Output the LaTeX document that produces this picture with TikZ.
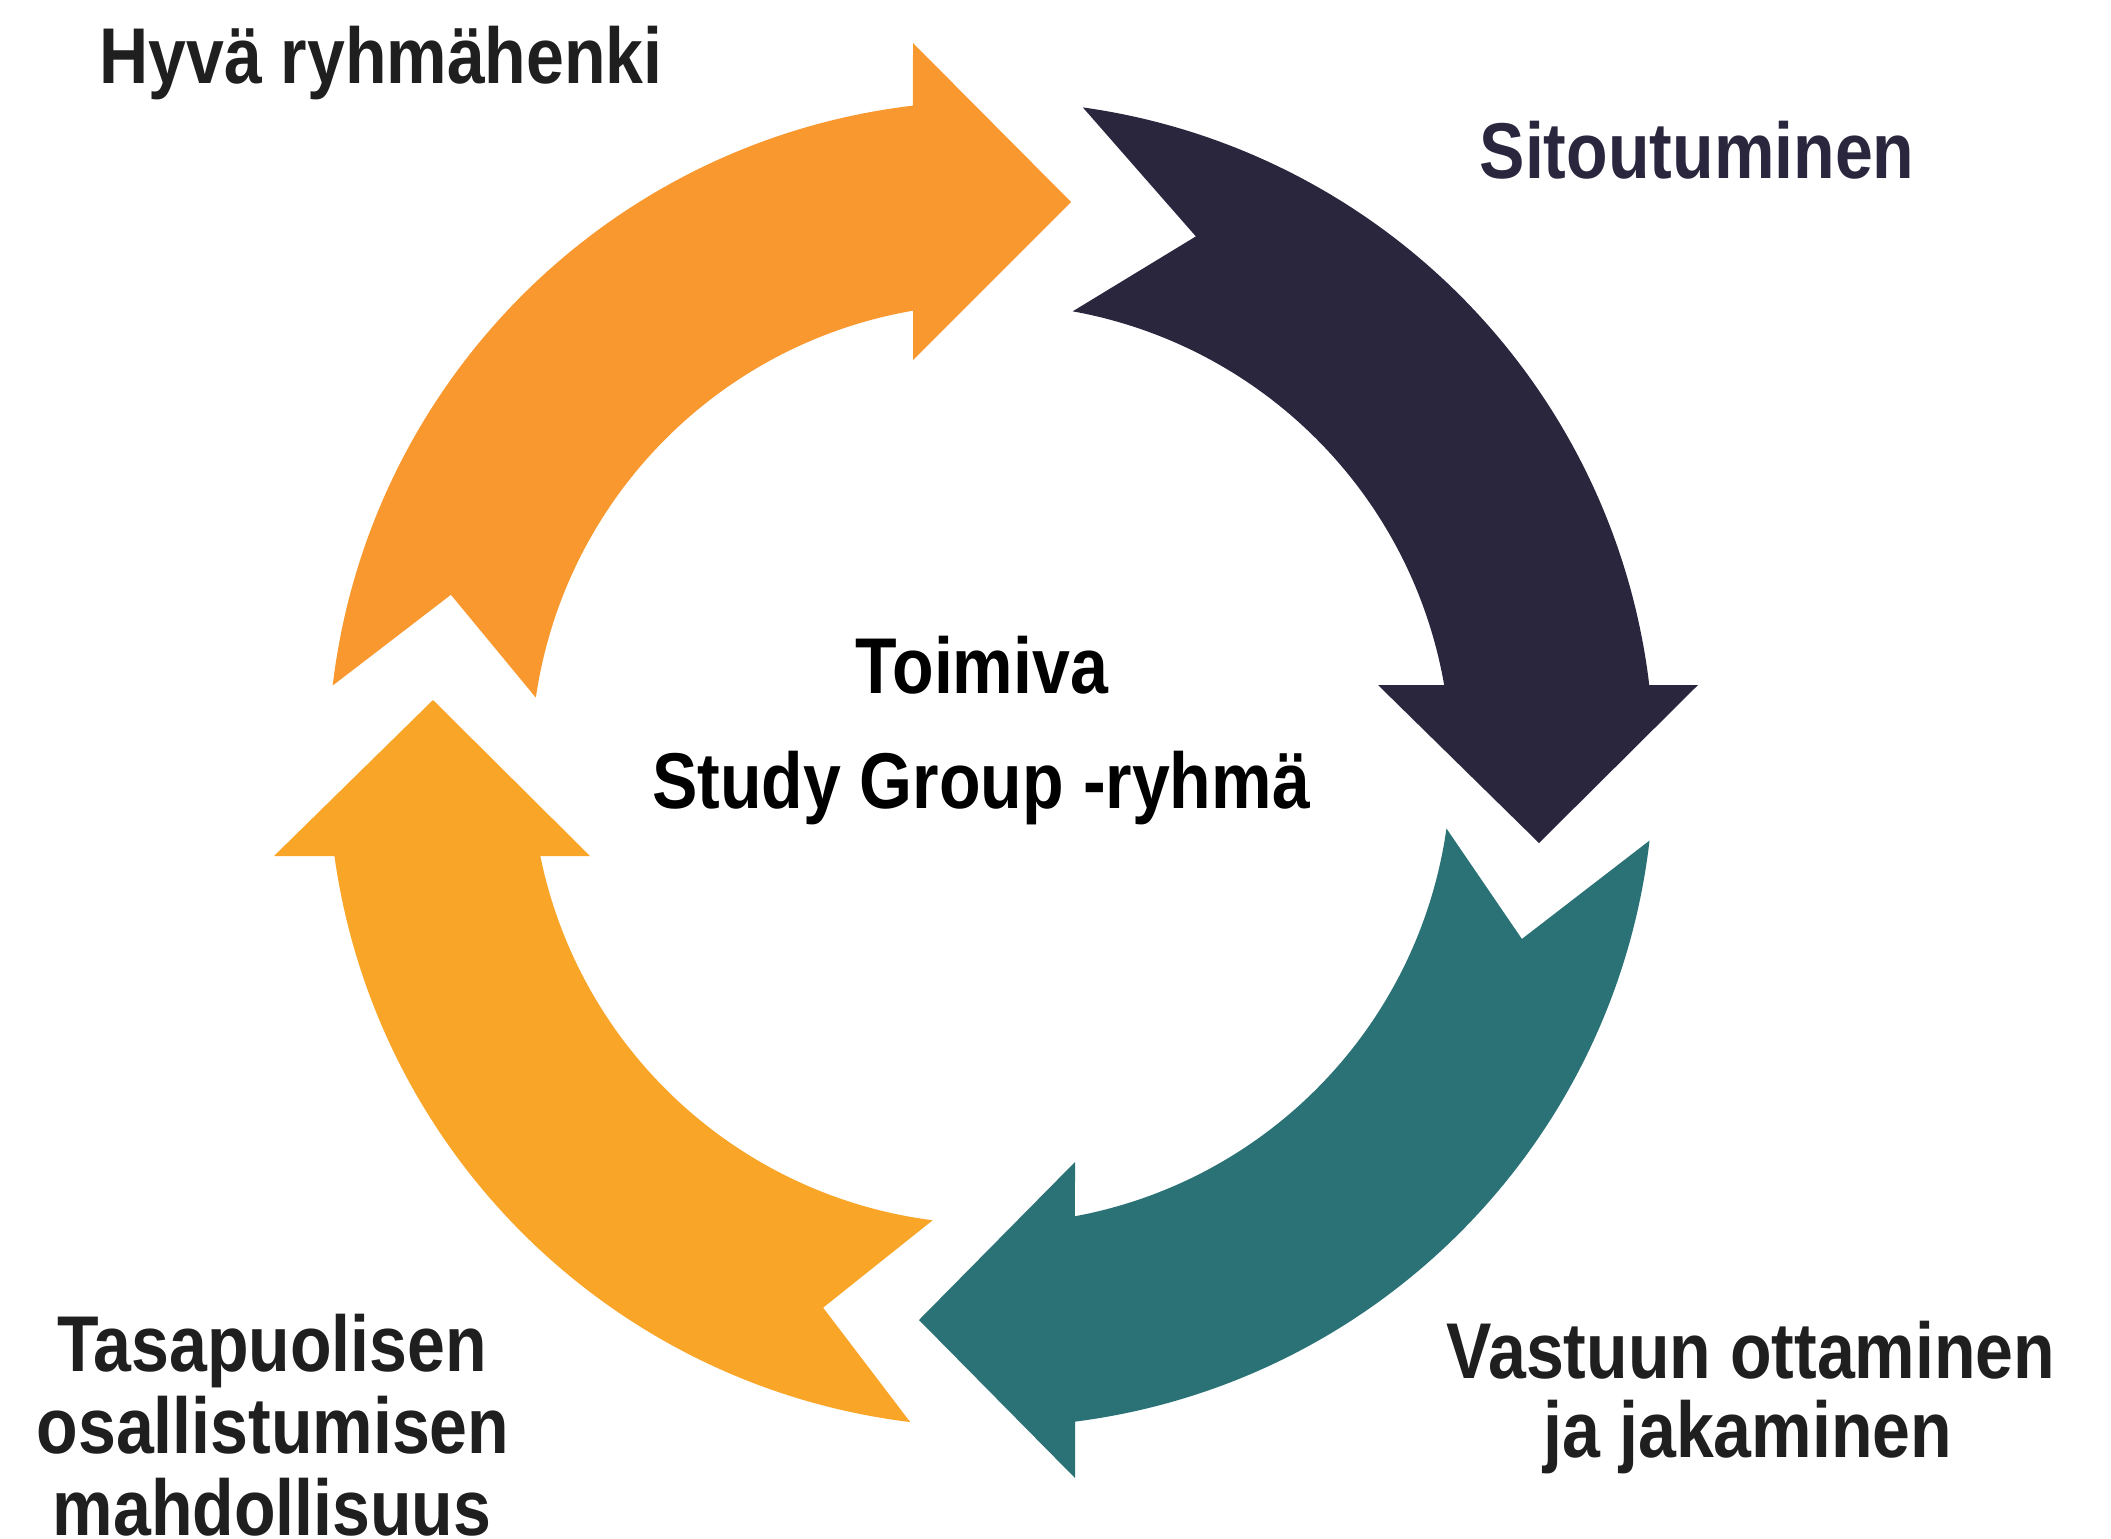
\documentclass[tikz,border=0pt]{standalone}
\usepackage{fontspec}
\newfontfamily\lblfont{Liberation Sans}[FakeStretch=0.86]
\definecolor{orA}{HTML}{F8982F}
\definecolor{orB}{HTML}{F9A528}
\definecolor{navy}{HTML}{2A263E}
\definecolor{tealc}{HTML}{2B7277}
\definecolor{txtgray}{HTML}{1F1F1F}
\begin{document}
\begin{tikzpicture}[x=0.01cm,y=-0.01cm,
  lbl/.style={font=\lblfont\bfseries\fontsize{22.5}{27}\selectfont, text=txtgray, anchor=base, inner sep=0pt}]
\useasboundingbox (0,0) rectangle (2111,1539);
\fill[white] (0,0) rectangle (2111,1539);
\begin{scope}[shift={(991,764)}, yscale=-1]
  % orange: Hyva ryhmahenki
  \fill[orA] (173.2:663) arc[start angle=173.2, end angle=96.76, radius=663]
    -- (-78,721) -- (80,562) -- (-78,404)
    -- (99.76:460) arc[start angle=99.76, end angle=171.7, radius=460]
    -- (162.6:566) -- cycle;
  % navy: Sitoutuminen
  \fill[navy] (82.04:663) arc[start angle=82.04, end angle=6.84, radius=663]
    -- (707,79) -- (548,-79) -- (387,79)
    -- (9.89:460) arc[start angle=9.89, end angle=79.77, radius=460]
    -- (68.78:566) -- cycle;
  % teal: Vastuun ottaminen
  \fill[tealc] (-6.63:663) arc[start angle=-6.63, end angle=-82.72, radius=663]
    -- (84,-714) -- (-72,-556) -- (84,-398)
    -- (-79.48:460) arc[start angle=-79.48, end angle=-8.06, radius=460]
    -- (-18.24:559) -- cycle;
  % yellow-orange: Tasapuolisen
  \fill[orB] (-97:663) arc[start angle=-97, end angle=-172.02, radius=663]
    -- (-717,-92) -- (-558,64) -- (-401,-92)
    -- (-168.46:460) arc[start angle=-168.46, end angle=-97.29, radius=460]
    -- (-107.16:569) -- cycle;
\end{scope}
\node[lbl] (hyva) at (381,83) {Hyvä ryhmähenki};
\node[lbl, text=navy] (sito) at (1697,178) {Sitoutuminen};
\node[lbl, text=black] (toim) at (982,693) {Toimiva};
\node[lbl, text=black] (study) at (981,808) {Study Group -ryhmä};
\node[lbl] (vast1) at (1751,1378) {Vastuun ottaminen};
\node[lbl] (vast2) at (1748,1457) {ja jakaminen};
\node[lbl] (tasa1) at (272,1371) {Tasapuolisen};
\node[lbl] (tasa2) at (273,1453) {osallistumisen};
\node[lbl] (tasa3) at (272,1535) {mahdollisuus};
\end{tikzpicture}
\end{document}
